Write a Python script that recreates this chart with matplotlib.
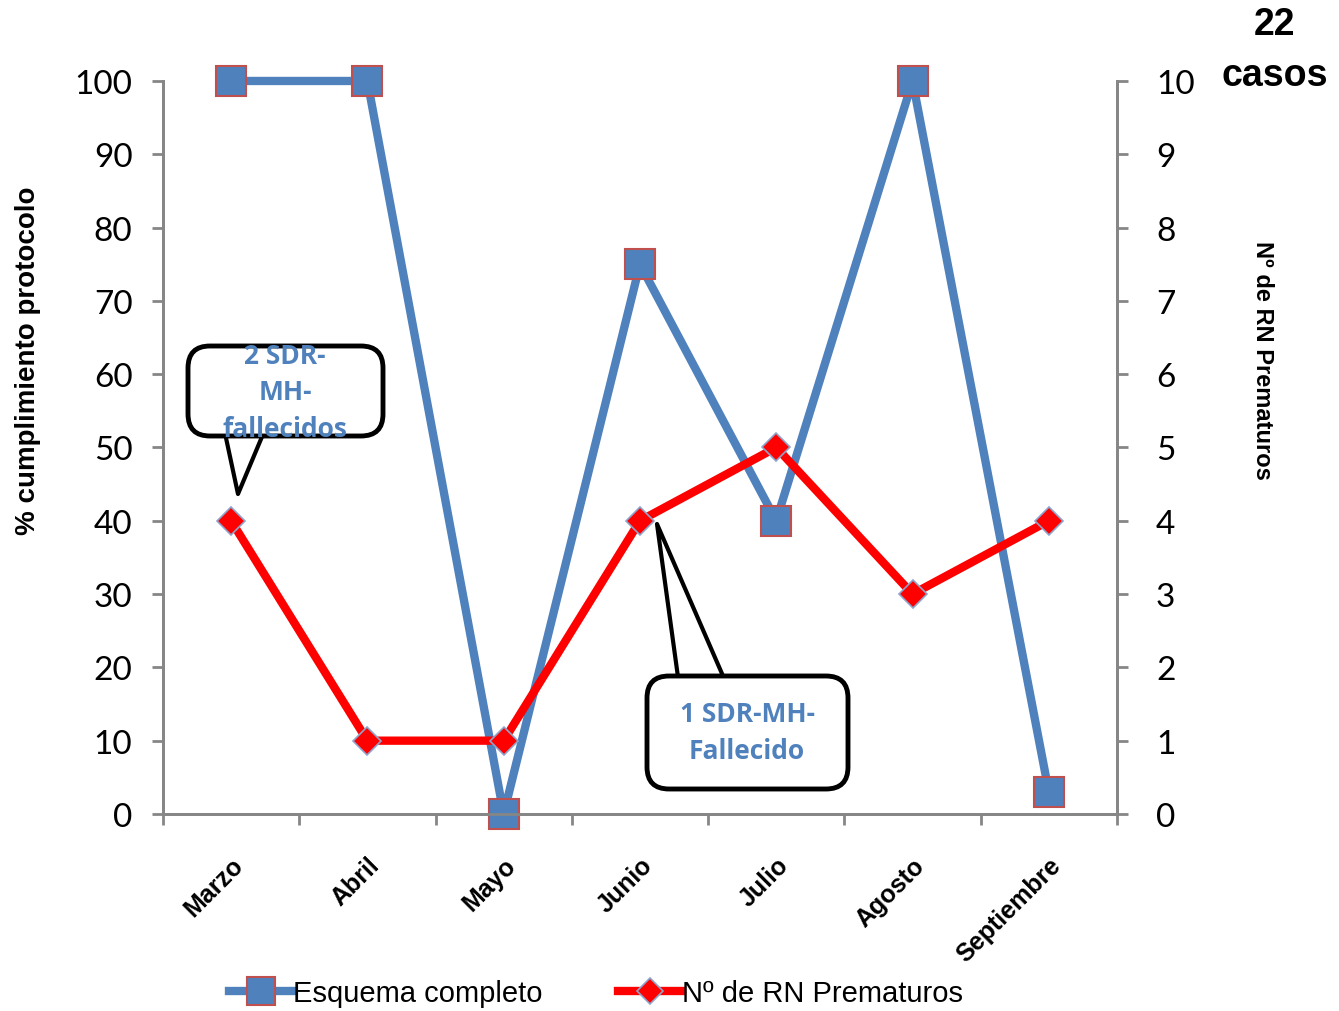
import matplotlib
matplotlib.use('Agg')
import matplotlib.pyplot as plt
from matplotlib.lines import Line2D
from matplotlib.patches import FancyBboxPatch

meses = ['Marzo', 'Abril', 'Mayo', 'Junio', 'Julio', 'Agosto', 'Septiembre']
esquema = [100, 100, 0, 75, 40, 100, 3]     # % cumplimiento protocolo
prematuros = [4, 1, 1, 4, 5, 3, 4]          # Nº de RN prematuros

blue = '#4F81BD'
red = '#FF0000'
axis_gray = '#868686'

fig = plt.figure(figsize=(13.39, 10.12), dpi=100)
ax = fig.add_axes([0.1217, 0.1947, 0.7125, 0.7243])
ax2 = ax.twinx()

x = list(range(len(meses)))
ax.plot(x, esquema, color=blue, lw=6, marker='s', ms=22,
        mfc=blue, mec='#C0504D', mew=1.5, zorder=3, clip_on=False)
ax2.plot(x, prematuros, color=red, lw=6, marker='D', ms=14,
         mfc=red, mec='#8EA4CC', mew=1.2, zorder=3, clip_on=False)

ax.set_xlim(-0.5, len(meses) - 0.5)
ax.set_ylim(0, 100)
ax2.set_ylim(0, 10)
ax.set_yticks(range(0, 101, 10))
ax2.set_yticks(range(0, 11, 1))

# x ticks at category boundaries, labels centred on categories
ax.set_xticks([i - 0.5 for i in range(len(meses) + 1)])
ax.set_xticklabels([])
ax.set_xticks(x, minor=True)
ax.set_xticklabels(meses, minor=True, rotation=45, ha='right', va='top',
                   fontsize=18, fontweight='bold', family='Liberation Sans',
                   rotation_mode='anchor')
ax.tick_params(axis='x', which='minor', length=0, pad=28)
ax.tick_params(axis='x', which='major', length=8, width=2, color=axis_gray)

for a in (ax, ax2):
    a.spines['top'].set_visible(False)
    for s in ('left', 'right', 'bottom'):
        a.spines[s].set_color(axis_gray)
        a.spines[s].set_linewidth(2)
ax.tick_params(axis='y', length=8, width=2, color=axis_gray, labelsize=24, pad=14)
ax2.tick_params(axis='y', length=8, width=2, color=axis_gray, labelsize=24, pad=20)
for lab in ax.get_yticklabels() + ax2.get_yticklabels():
    lab.set_family('Lato')

ax.set_ylabel('% cumplimiento protocolo', fontsize=20, fontweight='bold',
              family='Liberation Sans')
ax2.set_ylabel('Nº de RN Prematuros', fontsize=17, fontweight='bold',
               family='Liberation Sans', rotation=-90)
ax.yaxis.set_label_coords(-0.128, 0.62)
ax2.yaxis.set_label_coords(1.165, 0.62)

fig.text(0.952, 0.975, '22', ha='center', va='center', fontsize=27, fontweight='bold',
         family='Liberation Sans')
fig.text(0.952, 0.925, 'casos', ha='center', va='center', fontsize=27, fontweight='bold',
         family='Liberation Sans')

H = 1012


def callout(base, tip, rect, center, text, width):
    ax.annotate('', xy=tip, xytext=base, xycoords='figure pixels',
                textcoords='figure pixels',
                arrowprops=dict(arrowstyle='wedge,tail_width=%s' % width,
                                mutation_scale=20, fc='white', ec='black', lw=3,
                                shrinkA=0, shrinkB=0),
                zorder=5, annotation_clip=False)
    box = FancyBboxPatch(rect[:2], rect[2], rect[3],
                         boxstyle='round,pad=0,rounding_size=22',
                         transform=None, fc='white', ec='black', lw=3.5, zorder=5.5)
    box.set_figure(fig)
    fig.patches.append(box)
    t = fig.text(center[0] / 1339, center[1] / H, text, ha='center', va='center',
                 fontsize=19, fontweight='bold', color=blue, family='Open Sans',
                 linespacing=1.45)
    t.set_zorder(6)


callout((245, H - 420), (238, H - 495), (188, H - 437, 195, 90), (285, H - 393),
        '2 SDR-\nMH-\nfallecidos', 1.7)
callout((706, H - 700), (657, H - 525), (647, H - 790, 201, 113), (747, H - 733),
        '1 SDR-MH-\nFallecido', 1.8)

handles = [
    Line2D([], [], color=blue, lw=6, marker='s', ms=20, mfc=blue, mec='#C0504D', mew=1.5),
    Line2D([], [], color=red, lw=6, marker='D', ms=13, mfc=red, mec='#8EA4CC', mew=1.2),
]
fig.legend(handles, ['Esquema completo', 'Nº de RN Prematuros'], loc='lower center',
           bbox_to_anchor=(0.445, -0.022), ncol=2, frameon=False, handlelength=2.2,
           handletextpad=0.0, columnspacing=2.6,
           prop={'family': 'Liberation Sans', 'size': 21})

plt.savefig('out.png', dpi=100)
